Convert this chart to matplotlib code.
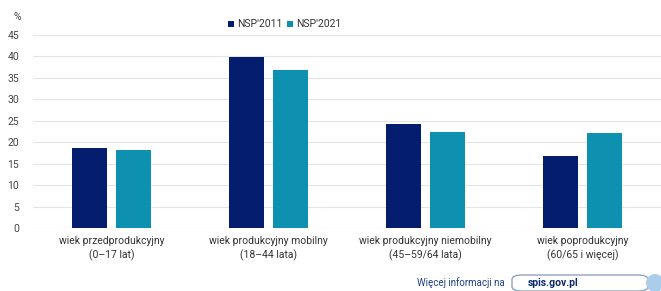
import matplotlib.pyplot as plt
from matplotlib.patches import FancyBboxPatch, Ellipse, Rectangle
import numpy as np

categories = ['wiek przedprodukcyjny\n(0–17 lat)',
              'wiek produkcyjny mobilny\n(18–44 lata)',
              'wiek produkcyjny niemobilny\n(45–59/64 lata)',
              'wiek poprodukcyjny\n(60/65 i więcej)']
nsp2011 = [18.6, 39.9, 24.3, 16.9]
nsp2021 = [18.3, 36.8, 22.4, 22.2]
series_names = ["NSP'2011", "NSP'2021"]
yticks = [0, 5, 10, 15, 20, 25, 30, 35, 40, 45]

dark = '#041d6e'
teal = '#0e90b0'
plt.rcParams['font.family'] = ['Roboto', 'DejaVu Sans']

fig = plt.figure(figsize=(6.61, 2.91), dpi=100, facecolor='white')
ax = fig.add_axes([0.05, 0.2165, 0.95, 0.6632])

x = np.arange(len(categories))
w = 0.223
ax.bar(x - 0.143, nsp2011, w, color=dark, zorder=3)
ax.bar(x + 0.143, nsp2021, w, color=teal, zorder=3)

ax.set_xlim(-0.5, 3.5)
ax.set_ylim(0, 45)
ax.set_yticks(yticks)
ax.tick_params(axis='y', length=0, pad=10, labelsize=7.5, labelcolor='#444444')
ax.set_xticks(x)
ax.set_xticklabels(categories, fontsize=7.5, color='#333333', linespacing=1.3)
ax.tick_params(axis='x', length=0, pad=6)
ax.grid(axis='y', color='#e4e4e4', linewidth=0.8, zorder=0)
for s in ax.spines.values():
    s.set_visible(False)
ax.axhline(0, color='#d0d0d0', linewidth=0.8, zorder=2)

fig.text(14 / 661, 1 - 17 / 291, '%', fontsize=7.5, color='#444444', ha='left', va='center')

# legend
ly = 1 - 24 / 291
for px, col, name in [(228, dark, series_names[0]), (287, teal, series_names[1])]:
    fig.patches.append(Rectangle((px / 661, ly - 3 / 291), 6 / 661, 6 / 291,
                                 transform=fig.transFigure, facecolor=col, edgecolor='none'))
    fig.text((px + 9) / 661, ly, name, fontsize=7.5, color='#333333', ha='left', va='center')

# footer
fy = 1 - 283 / 291
fig.text(505 / 661, fy, 'Więcej informacji na', fontsize=7, color='#1b3f8a', ha='right', va='center')
box = FancyBboxPatch((512 / 661, fy - 8 / 291), 136 / 661, 16 / 291,
                     boxstyle='round,pad=0,rounding_size=0.015', transform=fig.transFigure,
                     facecolor='white', edgecolor='#8fa3c0', linewidth=1.0)
fig.patches.append(box)
fig.text(528 / 661, fy, 'spis.gov.pl', fontsize=7.5, fontweight='bold', color='#0a2a6e',
         ha='left', va='center')
fig.patches.append(Ellipse((655 / 661, fy), 18 / 661, 18 / 291, transform=fig.transFigure,
                           facecolor='#a9cdea', edgecolor='none'))

fig.savefig('out.png', dpi=100)
